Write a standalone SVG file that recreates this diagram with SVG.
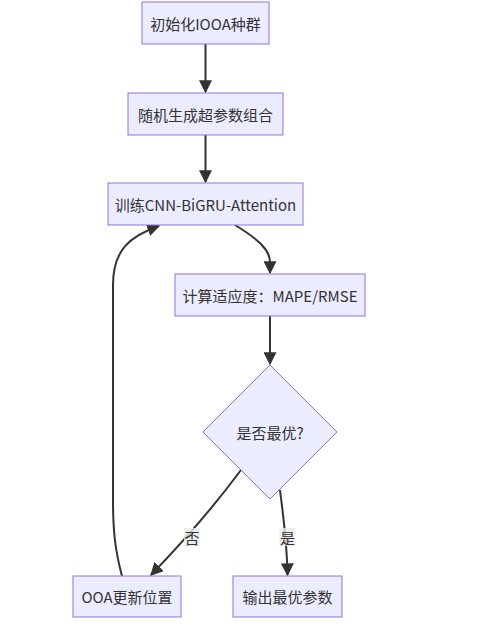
<svg xmlns="http://www.w3.org/2000/svg" width="500" height="626" viewBox="0 0 500 626">
<style>
.node rect,.node polygon{fill:#ECECFF;stroke:#9370DB;stroke-width:1}
.node text,.lbl text{font-family:"Noto Sans CJK SC","Liberation Sans",sans-serif;font-size:15px;fill:#333;text-anchor:middle;dominant-baseline:central}
.edge{fill:none;stroke:#333;stroke-width:2}
.lbl rect{fill:#e8e8e8;opacity:0.8}
</style>
<defs>
<marker id="arr" markerUnits="userSpaceOnUse" viewBox="0 0 10 10" refX="9" refY="5" markerWidth="13" markerHeight="13" orient="auto">
<path d="M0,0 L10,5 L0,10 z" fill="#333"/>
</marker>
</defs>
<rect width="500" height="626" fill="#fff"/>
<g id="connectors">
<path class="edge" d="M205.5,44 L205.5,92" marker-end="url(#arr)"/>
<path class="edge" d="M205.5,135 L205.5,182" marker-end="url(#arr)"/>
<path class="edge" d="M235,225 C258,239 270,250 270,262 L270,273" marker-end="url(#arr)"/>
<path class="edge" d="M270,316 L270,364" marker-end="url(#arr)"/>
<path class="edge" d="M241,470 C215,505 180,545 151,575" marker-end="url(#arr)"/>
<path class="edge" d="M280,490 C283,515 287,540 287.5,575" marker-end="url(#arr)"/>
<path class="edge" d="M122,576 C115,550 113,530 113,500 L113,285 C113,250 130,236 159,226" marker-end="url(#arr)"/>
<g class="lbl"><rect x="184" y="528" width="16" height="18"/><text x="192" y="537">否</text></g>
<g class="lbl"><rect x="279.5" y="528" width="16" height="18"/><text x="287.5" y="537">是</text></g>
</g>
<g id="n1" class="node"><rect x="142" y="2" width="127" height="42"/><text x="205.5" y="23">初始化IOOA种群</text></g>
<g id="n2" class="node"><rect x="128" y="93" width="155" height="42"/><text x="205.5" y="114">随机生成超参数组合</text></g>
<g id="n3" class="node"><rect x="108" y="183" width="195" height="42"/><text x="205.5" y="204">训练CNN-BiGRU-Attention</text></g>
<g id="n4" class="node"><rect x="175" y="274" width="190" height="42"/><text x="270" y="295">计算适应度：MAPE/RMSE</text></g>
<g id="n5" class="node"><polygon points="270,365 337,432 270,499 203,432"/><text x="270" y="432">是否最优?</text></g>
<g id="n6" class="node"><rect x="73" y="576" width="108" height="41"/><text x="127" y="596.5">OOA更新位置</text></g>
<g id="n7" class="node"><rect x="233" y="576" width="109" height="41"/><text x="287.5" y="596.5">输出最优参数</text></g>
</svg>
